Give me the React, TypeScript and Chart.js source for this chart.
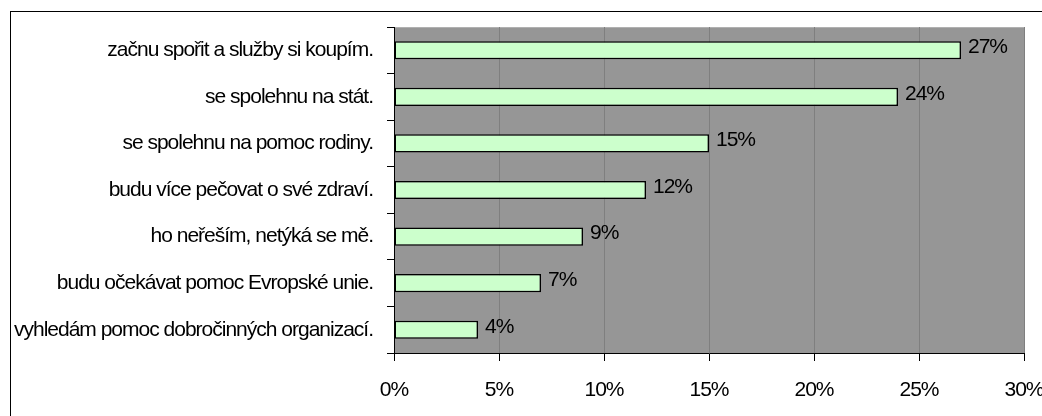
import React, { useEffect, useRef } from "react";
import { Chart, registerables } from "chart.js";

Chart.register(...registerables);

const categories = [
  "začnu spořit a služby si koupím.",
  "se spolehnu na stát.",
  "se spolehnu na pomoc rodiny.",
  "budu více pečovat o své zdraví.",
  "ho neřeším, netýká se mě.",
  "budu očekávat pomoc Evropské unie.",
  "vyhledám pomoc dobročinných organizací.",
];
const values = [27, 24, 15, 12, 9, 7, 4];
const xTicks = [0, 5, 10, 15, 20, 25, 30];

const FONT = "'Liberation Sans', Arial, sans-serif";
const FONT_SIZE = 21;

const plotBg = {
  id: "plotBg",
  beforeDraw(chart: any) {
    const { ctx, chartArea: a } = chart;
    (ctx as any).letterSpacing = "-1px";
    ctx.save();
    ctx.fillStyle = "#969696";
    ctx.fillRect(a.left, a.top, a.right - a.left, a.bottom - a.top);
    ctx.strokeStyle = "#b0b0b0";
    ctx.lineWidth = 1;
    ctx.beginPath();
    ctx.moveTo(a.left, a.top + 0.5);
    ctx.lineTo(a.right, a.top + 0.5);
    ctx.stroke();
    ctx.restore();
  },
};

const valueLabels = {
  id: "valueLabels",
  afterDatasetsDraw(chart: any) {
    const { ctx } = chart;
    const meta = chart.getDatasetMeta(0);
    ctx.save();
    (ctx as any).letterSpacing = "-1px";
    ctx.font = `${FONT_SIZE}px ${FONT}`;
    ctx.fillStyle = "#000";
    ctx.textAlign = "left";
    ctx.textBaseline = "middle";
    meta.data.forEach((bar: any, i: number) => {
      ctx.fillText(values[i] + "%", bar.x + 7, bar.y - 3);
    });
    ctx.restore();
  },
};

export default function App() {
  const ref = useRef<HTMLCanvasElement>(null);
  useEffect(() => {
    if (!ref.current) return;
    Chart.defaults.font.family = FONT;
    Chart.defaults.font.size = FONT_SIZE;
    Chart.defaults.color = "#000";
    const chart = new Chart(ref.current, {
      type: "bar",
      data: {
        labels: categories,
        datasets: [
          {
            data: values,
            backgroundColor: "#CCFFCC",
            borderColor: "#000",
            borderWidth: 1.5,
            borderSkipped: false,
            barPercentage: 0.39,
            categoryPercentage: 1,
          },
        ],
      },
      options: {
        indexAxis: "y",
        animation: false,
        responsive: false,
        maintainAspectRatio: false,
        layout: { padding: { left: 0, top: 27, right: 18, bottom: 0 } },
        plugins: { legend: { display: false }, tooltip: { enabled: false } },
        scales: {
          x: {
            min: 0,
            max: 30,
            afterBuildTicks: (scale: any) => {
              scale.ticks = xTicks.map((v) => ({ value: v }));
            },
            afterFit: (scale: any) => {
              scale.height = 63;
              scale.paddingLeft = 0;
              scale.paddingRight = 0;
            },
            ticks: {
              callback: (v: any) => v + "%",
              padding: 17,
              maxRotation: 0,
              autoSkip: false,
              font: { size: FONT_SIZE },
            },
            grid: {
              color: "#7f7f7f",
              tickColor: "#000",
              tickLength: 8,
              lineWidth: 1,
            },
            border: { color: "#000", width: 1 },
          },
          y: {
            afterFit: (scale: any) => {
              scale.width = 394;
              scale.paddingTop = 0;
              scale.paddingBottom = 0;
            },
            ticks: { padding: 14, font: { size: FONT_SIZE }, autoSkip: false },
            grid: {
              offset: true,
              drawOnChartArea: false,
              tickColor: "#000",
              tickLength: 7,
            },
            border: { color: "#000", width: 1 },
          },
        },
      },
      plugins: [plotBg, valueLabels],
    });
    return () => chart.destroy();
  }, []);
  return (
    <div style={{ position: "absolute", left: 0, top: 0, width: 1042, height: 416, overflow: "hidden", background: "#fff" }}>
      <div
        style={{
          position: "absolute",
          left: 10,
          top: 11,
          width: 1100,
          height: 500,
          borderLeft: "1px solid #000",
          borderTop: "1px solid #000",
        }}
      />
      <canvas ref={ref} width={1042} height={416} style={{ position: "absolute", left: 0, top: 0, width: 1042, height: 416 }} />
    </div>
  );
}
